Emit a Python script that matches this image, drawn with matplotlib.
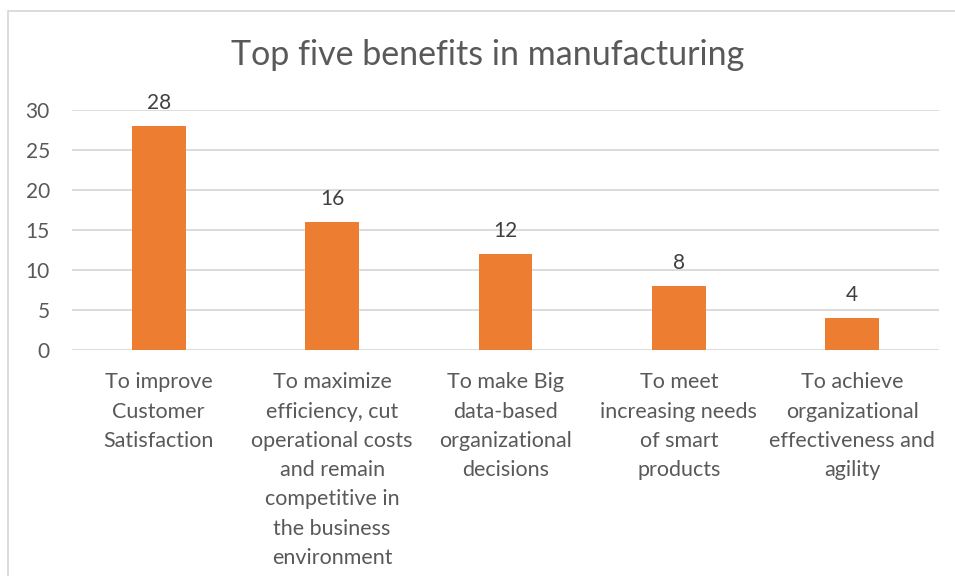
import matplotlib.pyplot as plt
from matplotlib.patches import Rectangle

categories = [
    "To improve\nCustomer\nSatisfaction",
    "To maximize\nefficiency, cut\noperational costs\nand remain\ncompetitive in\nthe business\nenvironment",
    "To make Big\ndata-based\norganizational\ndecisions",
    "To meet\nincreasing needs\nof smart\nproducts",
    "To achieve\norganizational\neffectiveness and\nagility",
]
values = [28, 16, 12, 8, 4]
yticks = [0, 5, 10, 15, 20, 25, 30]

plt.rcParams['font.family'] = ['Lato', 'DejaVu Sans']

W, H = 955, 576
fig = plt.figure(figsize=(W / 100, H / 100), dpi=100)
ax = fig.add_axes([72 / W, 1 - 350 / H, (939 - 72) / W, 240 / H])

x = range(len(values))
bars = ax.bar(x, values, width=0.31, color='#ED7D31', zorder=3)
for b, v in zip(bars, values):
    ax.text(b.get_x() + b.get_width() / 2, v + 1.6, str(v), ha='center', va='bottom',
            fontsize=15, color='#404040')

ax.set_xlim(-0.5, len(values) - 0.5)
ax.set_ylim(0, 30)
ax.set_yticks(yticks)
ax.set_xticks(list(x))
ax.set_xticklabels(categories, fontsize=15.5, color='#595959', linespacing=1.58)
ax.tick_params(axis='y', labelsize=15, labelcolor='#595959', length=0, pad=16)
ax.tick_params(axis='x', length=0, pad=16)
ax.grid(axis='y', color='#D9D9D9', linewidth=1.3, zorder=0)
for s in ax.spines.values():
    s.set_visible(False)

fig.text(488 / W, 1 - 55 / H, "Top five benefits in manufacturing", ha='center', va='center',
         fontsize=24.5, color='#595959')

fig.patches.append(Rectangle((8 / W, -0.1), 1.2, 1 - 11 / H + 0.1, transform=fig.transFigure,
                             fill=False, edgecolor='#D9D9D9', linewidth=1.3))

fig.savefig('out.png', dpi=100)
